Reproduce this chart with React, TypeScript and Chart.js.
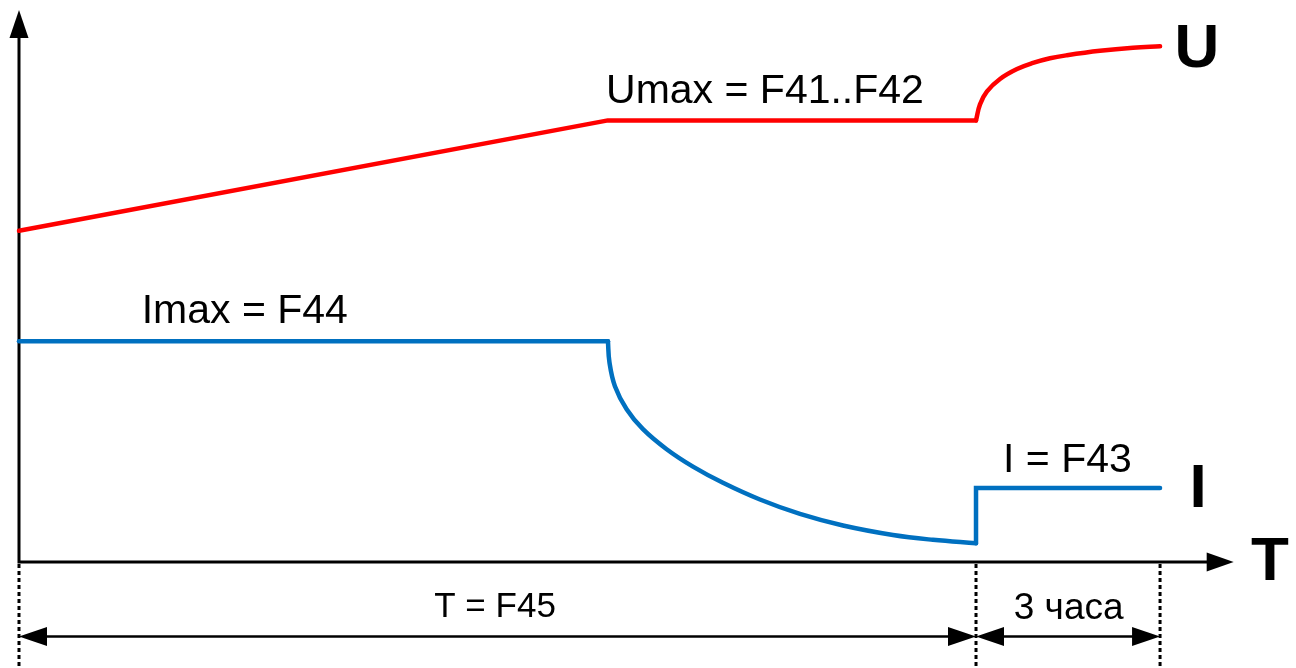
import React, { useEffect, useRef } from "react";
import { Chart, registerables } from "chart.js";

Chart.register(...registerables);

// Time axis in hours, values in arbitrary units (0..100)
const uRampTime = [0, 9.6, 15.6];
const uRampValue = [60, 80, 80];
const uFinalTime = [15.6, 15.665, 15.779, 15.991, 16.268, 16.529, 16.806, 17.083, 17.621, 18.159, 18.6];
const uFinalValue = [80, 82.9, 85.25, 87.5, 89.3, 90.4, 91.25, 91.8, 92.6, 93.15, 93.41];

const iConstTime = [0, 9.6];
const iConstValue = [40, 40];
const iDecayTime = [9.6, 9.6245, 9.714, 9.905, 10.171, 10.557, 10.986, 11.475, 12.078, 12.73, 13.431, 14.246, 14.898, 15.6];
const iDecayValue = [40, 36.2, 31.85, 27.68, 24.06, 20.43, 17.28, 14.35, 11.32, 8.71, 6.61, 4.89, 4.02, 3.4];
const iHoldTime = [15.6, 15.6, 18.6];
const iHoldValue = [3.4, 13.4, 13.4];

const phaseMarks = [0, 15.6, 18.6];
const axisTimeEnd = 19.8;
const axisValueEnd = 100;

const RED = "#FF0000";
const BLUE = "#0070C0";
const FONT = "'Liberation Sans', Arial, sans-serif";

const toXY = (t: number[], v: number[]) => t.map((x, i) => ({ x, y: v[i] }));

function arrowHead(ctx: CanvasRenderingContext2D, tipX: number, tipY: number, dx: number, dy: number, len: number, half: number) {
  const bx = tipX - dx * len;
  const by = tipY - dy * len;
  const px = -dy;
  const py = dx;
  ctx.beginPath();
  ctx.moveTo(tipX, tipY);
  ctx.lineTo(bx + px * half, by + py * half);
  ctx.lineTo(bx - px * half, by - py * half);
  ctx.closePath();
  ctx.fill();
}

const diagramPlugin = {
  id: "diagram",
  beforeDatasetsDraw(chart: any) {
    const { ctx, scales } = chart;
    const xs = scales.x;
    const ys = scales.y;
    const x0 = xs.getPixelForValue(0);
    const y0 = ys.getPixelForValue(0);
    const yTop = ys.getPixelForValue(axisValueEnd);
    const xEnd = xs.getPixelForValue(axisTimeEnd);
    ctx.save();
    ctx.strokeStyle = "#000";
    ctx.fillStyle = "#000";
    ctx.lineWidth = 3;
    ctx.lineCap = "butt";
    ctx.beginPath();
    ctx.moveTo(x0, y0 + 1.5);
    ctx.lineTo(x0, yTop + 20);
    ctx.moveTo(x0 - 1.5, y0);
    ctx.lineTo(xEnd - 20, y0);
    ctx.stroke();
    arrowHead(ctx, x0, yTop, 0, -1, 28, 9.5);
    arrowHead(ctx, xEnd, y0, 1, 0, 27, 9.5);
    ctx.restore();
  },
  afterDatasetsDraw(chart: any) {
    const { ctx, scales } = chart;
    const xs = scales.x;
    const ys = scales.y;
    const y0 = ys.getPixelForValue(0);
    const bottom = chart.height;
    ctx.save();
    ctx.strokeStyle = "#000";
    ctx.lineWidth = 3;
    ctx.setLineDash([4, 3]);
    phaseMarks.forEach((t) => {
      const px = xs.getPixelForValue(t);
      ctx.beginPath();
      ctx.moveTo(px, y0 + 2);
      ctx.lineTo(px, bottom);
      ctx.stroke();
    });
    ctx.setLineDash([]);
    const yd = ys.getPixelForValue(-13.5);
    ctx.lineWidth = 2.5;
    ctx.fillStyle = "#000";
    for (let i = 0; i < phaseMarks.length - 1; i++) {
      const a = xs.getPixelForValue(phaseMarks[i]);
      const b = xs.getPixelForValue(phaseMarks[i + 1]);
      ctx.beginPath();
      ctx.moveTo(a + 20, yd);
      ctx.lineTo(b - 20, yd);
      ctx.stroke();
      arrowHead(ctx, a, yd, -1, 0, 28, 9.5);
      arrowHead(ctx, b, yd, 1, 0, 28, 9.5);
    }
    const labels: [string, number, number, string][] = [
      ["Umax = F41..F42", 12.16, 83.15, `41px ${FONT}`],
      ["Imax = F44", 3.68, 43.3, `41px ${FONT}`],
      ["I = F43", 17.09, 16.3, `41px ${FONT}`],
      ["T = F45", 7.76, -9.96, `35px ${FONT}`],
      ["3 часа", 17.11, -10.33, `37px ${FONT}`],
      ["U", 19.2, 89.67, `bold 62px ${FONT}`],
      ["I", 19.22, 9.96, `bold 62px ${FONT}`],
      ["T", 20.39, -3.26, `bold 62px ${FONT}`],
    ];
    ctx.fillStyle = "#000";
    ctx.textAlign = "center";
    ctx.textBaseline = "alphabetic";
    labels.forEach(([text, t, v, font]) => {
      ctx.font = font;
      ctx.fillText(text, xs.getPixelForValue(t), ys.getPixelForValue(v));
    });
    ctx.restore();
  },
};

export default function App() {
  const ref = useRef<HTMLCanvasElement | null>(null);
  useEffect(() => {
    document.body.style.margin = "0";
    if (!ref.current) return;
    const common = {
      pointRadius: 0,
      borderWidth: 4.5,
      borderCapStyle: "round" as const,
      borderJoinStyle: "round" as const,
      fill: false,
    };
    const chart = new Chart(ref.current, {
      type: "line",
      data: {
        datasets: [
          { ...common, label: "U ramp", data: toXY(uRampTime, uRampValue), borderColor: RED, tension: 0 },
          { ...common, label: "U final", data: toXY(uFinalTime, uFinalValue), borderColor: RED, tension: 0.4 },
          { ...common, label: "I const", data: toXY(iConstTime, iConstValue), borderColor: BLUE, tension: 0 },
          { ...common, label: "I decay", data: toXY(iDecayTime, iDecayValue), borderColor: BLUE, tension: 0.4 },
          { ...common, label: "I hold", data: toXY(iHoldTime, iHoldValue), borderColor: BLUE, tension: 0, borderJoinStyle: "miter" },
        ] as any,
      },
      options: {
        animation: false,
        responsive: false,
        devicePixelRatio: 1,
        layout: { padding: 0 },
        plugins: { legend: { display: false }, tooltip: { enabled: false } },
        events: [],
        scales: {
          x: { type: "linear", display: false, min: -0.3097, max: 20.816 },
          y: { type: "linear", display: false, min: -19.2, max: 101.81 },
        },
      },
      plugins: [diagramPlugin],
    });
    return () => chart.destroy();
  }, []);
  return (
    <div style={{ width: 1296, height: 668, background: "#fff" }}>
      <canvas ref={ref} width={1296} height={668} />
    </div>
  );
}
